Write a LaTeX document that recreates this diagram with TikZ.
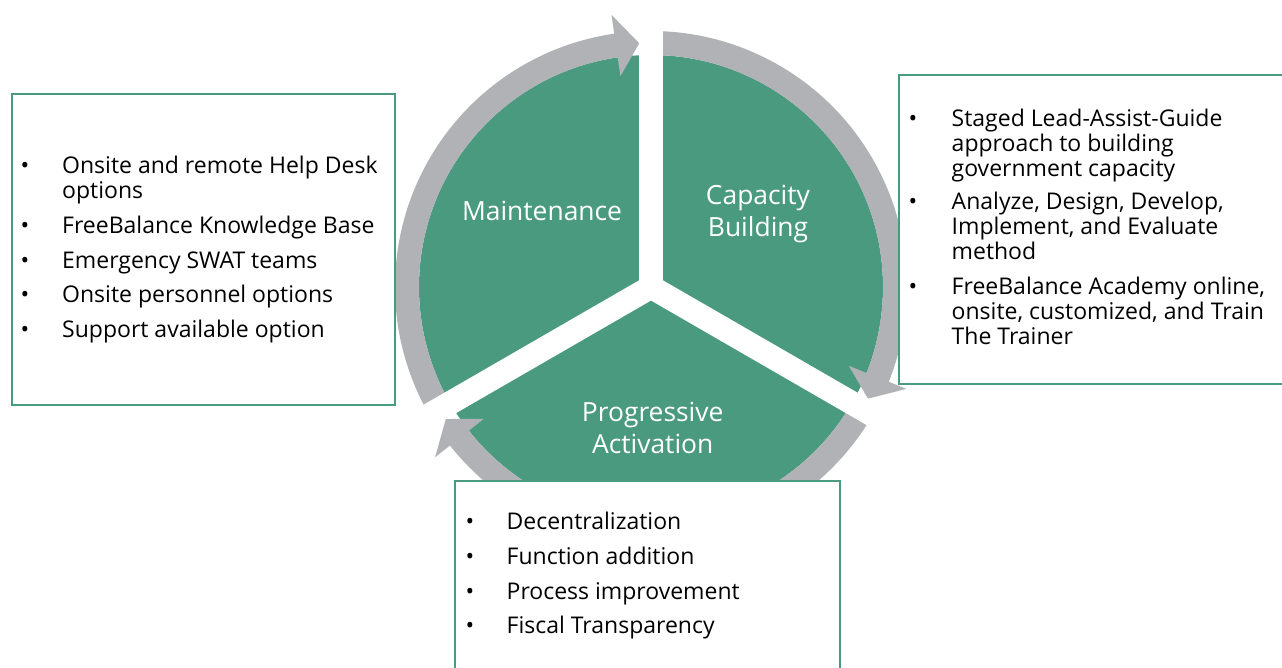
\documentclass[tikz,border=0pt]{standalone}
\usepackage{fontspec}
\setmainfont{Open Sans}

\definecolor{fbgreen}{RGB}{74,154,128}
\definecolor{ringgray}{RGB}{177,178,182}

\newcommand{\itemfont}{\fontsize{23}{25}\selectfont}
\newcommand{\segfont}{\fontsize{26.4}{32}\selectfont}

\tikzset{
  box/.style={draw=fbgreen, line width=2.5pt, fill=white, inner sep=0pt},
  bul/.style={anchor=base, inner sep=0pt, font=\itemfont},
  txt/.style={anchor=base west, inner sep=0pt, align=left, font=\itemfont},
  seglabel/.style={anchor=base, inner sep=0pt, align=center, font=\segfont, text=white},
  gapline/.style={draw=white, line width=23.5pt},
  ringarrow/.style={fill=ringgray}
}

\begin{document}
\begin{tikzpicture}[x=1pt,y=1pt]
\clip (0,0) rectangle (1282,668);
\coordinate (c) at (651,381);

% wheel
\fill[fbgreen] (c) circle[radius=232pt];
\fill[ringarrow, shift={(c)}] (210:256pt) arc[start angle=210, end angle=98.26, radius=256pt]
  -- (98.26:275pt) -- (92.76:244pt) -- (98.26:213pt) -- (98.26:232pt)
  arc[start angle=98.26, end angle=210, radius=232pt] -- cycle;
\fill[ringarrow, shift={(c)}] (90:256pt) arc[start angle=90, end angle=-21.74, radius=256pt]
  -- (-21.74:275pt) -- (-27.24:244pt) -- (-21.74:213pt) -- (-21.74:232pt)
  arc[start angle=-21.74, end angle=90, radius=232pt] -- cycle;
\fill[ringarrow, shift={(c)}] (-30:256pt) arc[start angle=-30, end angle=-141.74, radius=256pt]
  -- (-141.74:275pt) -- (-147.24:244pt) -- (-141.74:213pt) -- (-141.74:232pt)
  arc[start angle=-141.74, end angle=-30, radius=232pt] -- cycle;
\draw[gapline] (c) -- ++(90:290pt);
\draw[gapline] (c) -- ++(210:290pt);
\draw[gapline] (c) -- ++(330:290pt);

% base of a multi-line node = last line
\node[seglabel] (maint) at (542,447) {Maintenance};
\node[seglabel] (capac) at (758,431.3) {Capacity\\Building};
\node[seglabel] (progr) at (652.7,214) {Progressive\\Activation};

% boxes
\node[box, minimum width=383pt, minimum height=311pt] (leftbox) at (203.5,418.5) {};
\node[box, minimum width=396pt, minimum height=309pt] (rightbox) at (1097,438.5) {};
\node[box, minimum width=385pt, minimum height=209pt] (bottombox) at (647.5,82.5) {};

% maintenance list
\node[bul] (lb1) at (25,494.7) {•};
\node[txt] (lt1) at (62,469.7) {Onsite and remote Help Desk\\options};
\node[bul] (lb2) at (25,434.7) {•};
\node[txt] (lt2) at (62,434.7) {FreeBalance Knowledge Base};
\node[bul] (lb3) at (25,399.7) {•};
\node[txt] (lt3) at (62,399.7) {Emergency SWAT teams};
\node[bul] (lb4) at (25,365.3) {•};
\node[txt] (lt4) at (62,365.3) {Onsite personnel options};
\node[bul] (lb5) at (25,330.7) {•};
\node[txt] (lt5) at (62,330.7) {Support available option};

% capacity list
\node[bul] (rb1) at (913,541.3) {•};
\node[txt] (rt1) at (951.5,491.3) {Staged Lead-Assist-Guide\\approach to building\\government capacity};
\node[bul] (rb2) at (913,458) {•};
\node[txt] (rt2) at (951.5,408) {Analyze, Design, Develop,\\Implement, and Evaluate\\method};
\node[bul] (rb3) at (913,373) {•};
\node[txt] (rt3) at (951.5,323) {FreeBalance Academy online,\\onsite, customized, and Train\\The Trainer};

% activation list
\node[bul] (bb1) at (470,138) {•};
\node[txt] (bt1) at (506.5,138) {Decentralization};
\node[bul] (bb2) at (470,103) {•};
\node[txt] (bt2) at (506.5,103) {Function addition};
\node[bul] (bb3) at (470,68) {•};
\node[txt] (bt3) at (506.5,68) {Process improvement};
\node[bul] (bb4) at (470,34) {•};
\node[txt] (bt4) at (506.5,34) {Fiscal Transparency};
\end{tikzpicture}
\end{document}
